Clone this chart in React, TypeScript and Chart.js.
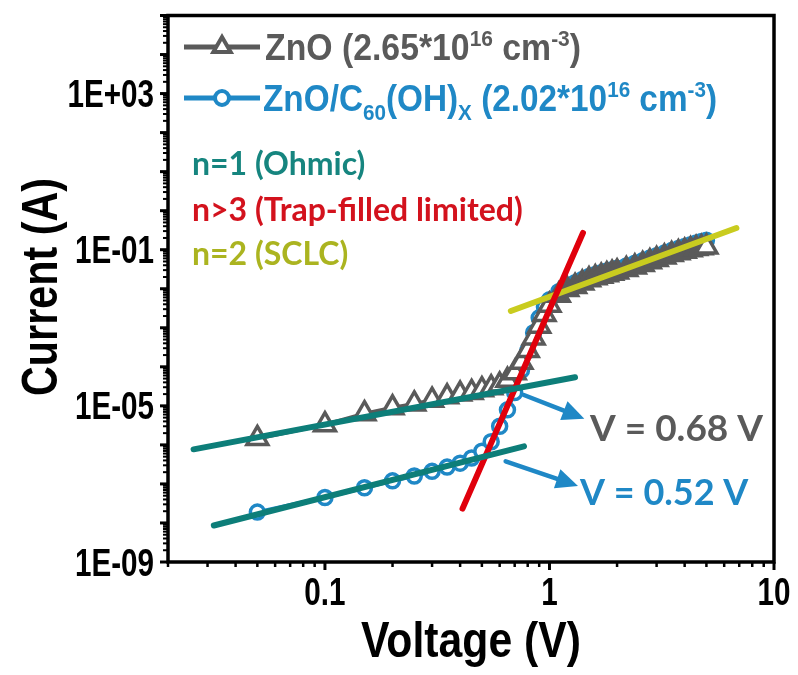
import React, { useEffect, useRef } from "react";
import { Chart, registerables } from "chart.js";

Chart.register(...registerables);

// ---------------- data ----------------
const voltage = [
  0.05, 0.1, 0.15, 0.2, 0.25, 0.3, 0.35, 0.4, 0.45, 0.5,
  0.55, 0.6, 0.65, 0.7, 0.75, 0.8, 0.85, 0.9, 0.95, 1.0,
  1.1, 1.2, 1.3, 1.4, 1.5, 1.6, 1.7, 1.8, 1.9, 2.0,
  2.2, 2.4, 2.6, 2.8, 3.0, 3.25, 3.5, 3.75, 4.0, 4.25, 4.5, 4.75, 5.0,
];

const currentZnO = [
  1.46e-6, 3.3e-6, 6.3e-6, 8.9e-6, 1.12e-5, 1.4e-5, 1.7e-5, 2.0e-5, 2.2e-5, 2.6e-5,
  2.9e-5, 3.4e-5, 4.5e-5, 7e-5, 1.3e-4, 2.6e-4, 5.5e-4, 1.1e-3, 2.2e-3, 3.8e-3,
  6.8e-3, 9.5e-3, 1.15e-2, 1.4e-2, 1.7e-2, 1.9e-2, 2.1e-2, 2.3e-2, 2.5e-2, 2.7e-2,
  3.1e-2, 3.6e-2, 4.2e-2, 4.9e-2, 5.6e-2, 6.5e-2, 7.5e-2, 8.4e-2, 9.2e-2, 0.1, 0.107, 0.113, 0.118,
];

const currentZnOC60 = [
  1.9e-8, 4.5e-8, 8e-8, 1.2e-7, 1.6e-7, 2.1e-7, 2.7e-7, 3.4e-7, 4.6e-7, 6.9e-7,
  1.2e-6, 3.0e-6, 7.9e-6, 2.2e-5, 8.1e-5, 2.6e-4, 7.5e-4, 1.8e-3, 3.4e-3, 5.2e-3,
  8.4e-3, 1.17e-2, 1.42e-2, 1.72e-2, 2.07e-2, 2.32e-2, 2.58e-2, 2.83e-2, 3.08e-2, 3.35e-2,
  3.85e-2, 4.5e-2, 5.25e-2, 6.1e-2, 7.0e-2, 8.2e-2, 9.5e-2, 0.107, 0.12, 0.134, 0.148, 0.162, 0.176,
];

// fitted guide lines (two end points each: voltage, current)
const ohmicZnO_V = [0.026, 1.3];
const ohmicZnO_I = [7.7e-7, 5.4e-5];
const ohmicC60_V = [0.032, 0.77];
const ohmicC60_I = [8.6e-9, 9.2e-7];
const trapFilled_V = [0.41, 1.41];
const trapFilled_I = [2.33e-8, 0.27];
const sclc_V = [0.673, 6.8];
const sclc_I = [2.69e-3, 0.36];

// arrows (start, end)
const arrowZnO_V = [0.769, 1.43];
const arrowZnO_I = [1.9e-5, 4.7e-6];
const arrowC60_V = [0.638, 1.34];
const arrowC60_I = [3.8e-7, 8.9e-8];

const xTickLabelValues = [0.1, 1, 10];
const yTickLabelValues = [1e-9, 1e-5, 1e-1, 1e3];
const yTickLabelText = ["1E-09", "1E-05", "1E-01", "1E+03"];

const X_MIN = 0.02;
const X_MAX = 10;
const Y_MIN = 1e-9;
const Y_MAX = 1e5;

// ---------------- styles ----------------
const GRAY = "#5a5a5a";
const BLUE = "#1f88c6";
const TEAL = "#0d7e79";
const RED = "#e0000c";
const YELLOW = "#c9cc1f";
const TEAL_TXT = "#16857f";
const RED_TXT = "#d3121d";
const YELLOW_TXT = "#abb420";
const ARIAL = '"Liberation Sans", Arial, sans-serif';
const CAL = 'Lato, "Open Sans", sans-serif';

type Seg = { t: string; m?: "sup" | "sub" };

function richWidth(ctx: CanvasRenderingContext2D, segs: Seg[], size: number, family: string) {
  let w = 0;
  for (const s of segs) {
    const fs = s.m ? size * 0.62 : size;
    ctx.font = `bold ${fs}px ${family}`;
    w += ctx.measureText(s.t).width;
  }
  return w;
}

function drawRich(
  ctx: CanvasRenderingContext2D,
  segs: Seg[],
  x: number,
  baseline: number,
  size: number,
  family: string,
  color: string,
  targetW: number | null,
  align: "left" | "center" | "right" = "left",
  sxFixed = 1
) {
  const natural = richWidth(ctx, segs, size, family);
  const sx = targetW ? targetW / natural : sxFixed;
  const w = natural * sx;
  let start = x;
  if (align === "center") start = x - w / 2;
  if (align === "right") start = x - w;
  ctx.save();
  ctx.translate(start, baseline);
  ctx.scale(sx, 1);
  ctx.fillStyle = color;
  ctx.textAlign = "left";
  ctx.textBaseline = "alphabetic";
  let cx = 0;
  for (const s of segs) {
    const fs = s.m ? size * 0.62 : size;
    ctx.font = `bold ${fs}px ${family}`;
    const dy = s.m === "sup" ? -size * 0.4 : s.m === "sub" ? size * 0.24 : 0;
    ctx.fillText(s.t, cx, dy);
    cx += ctx.measureText(s.t).width;
  }
  ctx.restore();
}

const legendZnO: Seg[] = [
  { t: "ZnO (2.65*10" },
  { t: "16", m: "sup" },
  { t: " cm" },
  { t: "-3", m: "sup" },
  { t: ")" },
];
const legendC60: Seg[] = [
  { t: "ZnO/C" },
  { t: "60", m: "sub" },
  { t: "(OH)" },
  { t: "X", m: "sub" },
  { t: " (2.02*10" },
  { t: "16", m: "sup" },
  { t: " cm" },
  { t: "-3", m: "sup" },
  { t: ")" },
];

const overlayPlugin = {
  id: "overlay",
  afterDatasetsDraw(chart: any) {
    const ctx: CanvasRenderingContext2D = chart.ctx;
    const xs = chart.scales.x;
    const ys = chart.scales.y;
    const arrow = (V: number[], I: number[]) => {
      const x0 = xs.getPixelForValue(V[0]);
      const y0 = ys.getPixelForValue(I[0]);
      const x1 = xs.getPixelForValue(V[1]);
      const y1 = ys.getPixelForValue(I[1]);
      const ang = Math.atan2(y1 - y0, x1 - x0);
      const hl = 22;
      const hw = 10;
      const bx = x1 - hl * Math.cos(ang);
      const by = y1 - hl * Math.sin(ang);
      ctx.save();
      ctx.strokeStyle = BLUE;
      ctx.fillStyle = BLUE;
      ctx.lineWidth = 4.5;
      ctx.lineCap = "round";
      ctx.beginPath();
      ctx.moveTo(x0, y0);
      ctx.lineTo(bx, by);
      ctx.stroke();
      ctx.beginPath();
      ctx.moveTo(x1, y1);
      ctx.lineTo(bx + hw * Math.sin(ang), by - hw * Math.cos(ang));
      ctx.lineTo(bx - hw * Math.sin(ang), by + hw * Math.cos(ang));
      ctx.closePath();
      ctx.fill();
      ctx.restore();
    };
    arrow(arrowZnO_V, arrowZnO_I);
    arrow(arrowC60_V, arrowC60_I);
  },
  afterDraw(chart: any) {
    const ctx: CanvasRenderingContext2D = chart.ctx;
    const xs = chart.scales.x;
    const ys = chart.scales.y;
    const { left, right, top, bottom } = chart.chartArea;

    // ticks
    ctx.save();
    ctx.strokeStyle = "#000";
    for (let d = -2; d <= 1; d++) {
      for (let m = 1; m <= 9; m++) {
        const v = m * Math.pow(10, d);
        if (v < X_MIN * 0.999 || v > X_MAX * 1.001) continue;
        const px = xs.getPixelForValue(v);
        const major = m === 1;
        ctx.lineWidth = major ? 3 : 2.5;
        ctx.beginPath();
        ctx.moveTo(px, bottom);
        ctx.lineTo(px, bottom + (major ? 8 : 5));
        ctx.stroke();
      }
    }
    for (let d = -9; d <= 5; d++) {
      for (let m = 1; m <= 9; m++) {
        const v = m * Math.pow(10, d);
        if (v < Y_MIN * 0.999 || v > Y_MAX * 1.001) continue;
        const py = ys.getPixelForValue(v);
        const major = m === 1;
        ctx.lineWidth = major ? 3 : 2;
        ctx.beginPath();
        ctx.moveTo(left, py);
        ctx.lineTo(left - (major ? 8 : 5), py);
        ctx.stroke();
      }
    }
    // frame
    ctx.lineWidth = 3.5;
    ctx.strokeRect(left, top, right - left, bottom - top);
    ctx.restore();

    // tick labels
    xTickLabelValues.forEach((v) => {
      drawRich(ctx, [{ t: String(v) }], xs.getPixelForValue(v), 605, 38, ARIAL, "#000", null, "center", 0.78);
    });
    yTickLabelValues.forEach((v, i) => {
      drawRich(ctx, [{ t: yTickLabelText[i] }], left - 14, ys.getPixelForValue(v) + 13.5, 38, ARIAL, "#000", null, "right", 0.78);
    });

    // axis titles
    drawRich(ctx, [{ t: "Voltage (V)" }], (left + right) / 2, 657, 50, ARIAL, "#000", 220, "center");
    ctx.save();
    ctx.translate(57, 287);
    ctx.rotate(-Math.PI / 2);
    drawRich(ctx, [{ t: "Current (A)" }], 0, 0, 50, ARIAL, "#000", 218, "center");
    ctx.restore();

    // legend
    const legendRow = (cy: number, color: string, style: "triangle" | "circle", segs: Seg[], tx: number, tw: number) => {
      ctx.save();
      ctx.strokeStyle = color;
      ctx.lineWidth = 5;
      ctx.beginPath();
      ctx.moveTo(184, cy);
      ctx.lineTo(260, cy);
      ctx.stroke();
      ctx.fillStyle = "#fff";
      ctx.lineWidth = 4;
      ctx.beginPath();
      if (style === "triangle") {
        const r = 10;
        ctx.moveTo(222, cy - r);
        ctx.lineTo(222 + r * 0.866, cy + r / 2);
        ctx.lineTo(222 - r * 0.866, cy + r / 2);
        ctx.closePath();
      } else {
        ctx.arc(222, cy, 7, 0, Math.PI * 2);
      }
      ctx.fill();
      ctx.stroke();
      ctx.restore();
      drawRich(ctx, segs, tx, cy + 13, 36, ARIAL, color, tw, "left");
    };
    legendRow(47, GRAY, "triangle", legendZnO, 265, 316);
    legendRow(98, BLUE, "circle", legendC60, 263, 454);

    // regime annotations
    drawRich(ctx, [{ t: "n=1 (Ohmic)" }], 192, 175, 32, CAL, TEAL_TXT, null, "left");
    drawRich(ctx, [{ t: "n>3 (Trap-filled limited)" }], 192, 221, 32, CAL, RED_TXT, null, "left");
    drawRich(ctx, [{ t: "n=2 (SCLC)" }], 192, 265, 32, CAL, YELLOW_TXT, null, "left");

    drawRich(ctx, [{ t: "V = 0.68 V" }], 590, 441, 37, CAL, GRAY, null, "left");
    drawRich(ctx, [{ t: "V = 0.52 V" }], 580, 505, 36, CAL, BLUE, null, "left");
  },
};

const pts = (V: number[], I: number[]) => V.map((v, i) => ({ x: v, y: I[i] }));

export default function App() {
  const canvasRef = useRef<HTMLCanvasElement | null>(null);

  useEffect(() => {
    if (!canvasRef.current) return;
    const fitLine = (V: number[], I: number[], color: string) => ({
      data: pts(V, I),
      borderColor: color,
      backgroundColor: color,
      borderWidth: 6,
      pointRadius: 0,
      borderCapStyle: "round" as const,
      order: 0,
    });
    // dense, heavily overlapping markers above ~1 V read as a solid band
    const denseFill = (base: string, dense: string) => (c: any) =>
      c.raw && c.raw.x > 1.05 && c.raw.x < 4.9 ? dense : base;
    const chart = new Chart(canvasRef.current, {
      type: "line",
      data: {
        datasets: [
          fitLine(ohmicZnO_V, ohmicZnO_I, TEAL),
          fitLine(ohmicC60_V, ohmicC60_I, TEAL),
          fitLine(trapFilled_V, trapFilled_I, RED),
          fitLine(sclc_V, sclc_I, YELLOW),
          {
            data: pts(voltage, currentZnO),
            borderColor: GRAY,
            backgroundColor: "#fff",
            borderWidth: 4,
            pointStyle: "triangle",
            pointRadius: 12,
            pointBorderWidth: 3.5,
            pointBorderColor: GRAY,
            pointBackgroundColor: denseFill("#fff", GRAY),
            order: 1,
          },
          {
            data: pts(voltage, currentZnOC60),
            borderColor: BLUE,
            backgroundColor: "#fff",
            borderWidth: 4,
            pointStyle: "circle",
            pointRadius: 7,
            pointBorderWidth: 3.5,
            pointBorderColor: BLUE,
            pointBackgroundColor: denseFill("#fff", BLUE),
            order: 2,
          },
        ],
      },
      options: {
        animation: false,
        responsive: false,
        devicePixelRatio: 1,
        events: [],
        layout: { padding: { left: 168, right: 24, top: 9, bottom: 113 } },
        plugins: { legend: { display: false }, tooltip: { enabled: false } },
        scales: {
          x: { type: "logarithmic", min: X_MIN, max: X_MAX, display: false },
          y: { type: "logarithmic", min: Y_MIN, max: Y_MAX, display: false },
        },
      },
      plugins: [overlayPlugin],
    });
    return () => chart.destroy();
  }, []);

  return (
    <div style={{ position: "fixed", left: 0, top: 0, width: 798, height: 675, background: "#fff" }}>
      <canvas ref={canvasRef} width={798} height={675} style={{ display: "block" }} />
    </div>
  );
}
